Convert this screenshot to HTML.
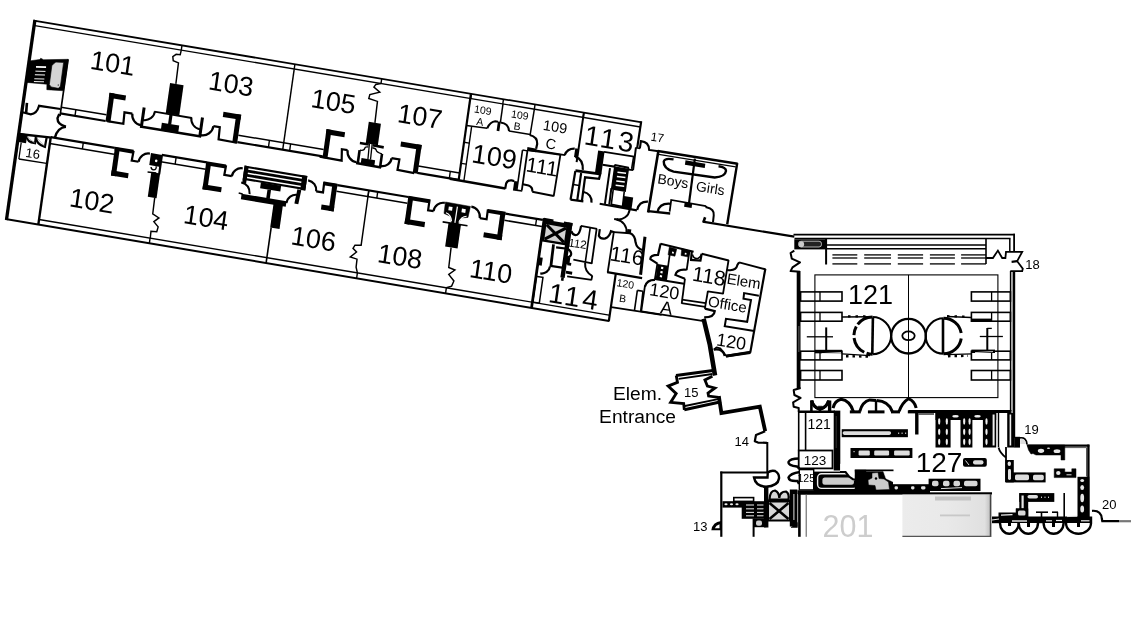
<!DOCTYPE html>
<html><head><meta charset="utf-8"><title>Floor plan</title>
<style>
html,body{margin:0;padding:0;background:#fff}
svg{display:block;filter:grayscale(1)}
text{font-family:"Liberation Sans",sans-serif}
</style></head><body>
<svg width="1131" height="618" viewBox="0 0 1131 618">
<rect width="1131" height="618" fill="#fff"/>
<g id="east">
<path d="M702.6 221.7 L794.3 236.7" fill="none" stroke="#000" stroke-width="2.2" stroke-linejoin="miter"/>
<line x1="793.5" y1="234.6" x2="1015" y2="234.6" stroke="#000" stroke-width="1.8" stroke-linecap="butt"/>
<line x1="794.5" y1="238.6" x2="1010.5" y2="238.6" stroke="#000" stroke-width="1.5" stroke-linecap="butt"/>
<line x1="1014.1" y1="233.8" x2="1014.1" y2="251.8" stroke="#000" stroke-width="1.8" stroke-linecap="butt"/>
<line x1="1009.8" y1="238.6" x2="1009.8" y2="251.8" stroke="#000" stroke-width="1.5" stroke-linecap="butt"/>
<line x1="826.1" y1="245" x2="986" y2="245" stroke="#000" stroke-width="1.4" stroke-linecap="butt"/>
<line x1="826.1" y1="248.7" x2="986" y2="248.7" stroke="#000" stroke-width="1.4" stroke-linecap="butt"/>
<line x1="826.1" y1="239" x2="826.1" y2="264.5" stroke="#000" stroke-width="2.0" stroke-linecap="butt"/>
<line x1="986" y1="238.6" x2="986" y2="264" stroke="#000" stroke-width="1.6" stroke-linecap="butt"/>
<rect x="794.3" y="239.3" width="32" height="10.1" fill="#000"/>
<rect x="798.5" y="241.2" width="23" height="5.8" rx="2.5" fill="#222" stroke="#ddd" stroke-width="0.8"/>
<ellipse cx="801.5" cy="244.3" rx="2.6" ry="3" fill="#ccc"/>
<line x1="832.4" y1="254.9" x2="857.3" y2="254.9" stroke="#000" stroke-width="1.3" stroke-linecap="butt"/>
<line x1="832.4" y1="258" x2="857.3" y2="258" stroke="#000" stroke-width="1.3" stroke-linecap="butt"/>
<line x1="832.4" y1="263.9" x2="857.3" y2="263.9" stroke="#000" stroke-width="1.3" stroke-linecap="butt"/>
<line x1="864.2" y1="254.9" x2="891" y2="254.9" stroke="#000" stroke-width="1.3" stroke-linecap="butt"/>
<line x1="864.2" y1="258" x2="891" y2="258" stroke="#000" stroke-width="1.3" stroke-linecap="butt"/>
<line x1="864.2" y1="263.9" x2="891" y2="263.9" stroke="#000" stroke-width="1.3" stroke-linecap="butt"/>
<line x1="897.8" y1="254.9" x2="923.1" y2="254.9" stroke="#000" stroke-width="1.3" stroke-linecap="butt"/>
<line x1="897.8" y1="258" x2="923.1" y2="258" stroke="#000" stroke-width="1.3" stroke-linecap="butt"/>
<line x1="897.8" y1="263.9" x2="923.1" y2="263.9" stroke="#000" stroke-width="1.3" stroke-linecap="butt"/>
<line x1="929.9" y1="254.9" x2="954.9" y2="254.9" stroke="#000" stroke-width="1.3" stroke-linecap="butt"/>
<line x1="929.9" y1="258" x2="954.9" y2="258" stroke="#000" stroke-width="1.3" stroke-linecap="butt"/>
<line x1="929.9" y1="263.9" x2="954.9" y2="263.9" stroke="#000" stroke-width="1.3" stroke-linecap="butt"/>
<line x1="961.1" y1="254.9" x2="986" y2="254.9" stroke="#000" stroke-width="1.3" stroke-linecap="butt"/>
<line x1="961.1" y1="258" x2="986" y2="258" stroke="#000" stroke-width="1.3" stroke-linecap="butt"/>
<line x1="961.1" y1="263.9" x2="986" y2="263.9" stroke="#000" stroke-width="1.3" stroke-linecap="butt"/>
<path d="M794.3 250.6 L790.6 253 L791.8 258.7 L800 262.4 L792.5 267.4 L790.6 271.1 L800 271.8" fill="none" stroke="#000" stroke-width="2.0" stroke-linejoin="round"/>
<line x1="798.6" y1="271" x2="798.6" y2="388.5" stroke="#000" stroke-width="3.8" stroke-linecap="butt"/>
<line x1="798.9" y1="326" x2="798.9" y2="352" stroke="#ccc" stroke-width="0.5" stroke-linecap="butt"/>
<path d="M986 258 L992.9 258 L997.9 250.6 L1002.2 258 L1005.4 258 L1006 251.8 L1022.2 251.8 L1017.2 261.2 L1022.8 268.6 L1022.2 271.1 L1010.3 271.1" fill="none" stroke="#000" stroke-width="1.8" stroke-linejoin="miter"/>
<path d="M1017.2 261.2 L1011.6 261.8" fill="none" stroke="#000" stroke-width="2.2" stroke-linejoin="miter"/>
<text x="1032.4" y="268.6" font-size="13" text-anchor="middle" fill="#000" >18</text>
<line x1="1010.6" y1="271" x2="1010.6" y2="411" stroke="#000" stroke-width="1.5" stroke-linecap="butt"/>
<line x1="1013.9" y1="271" x2="1013.9" y2="438" stroke="#000" stroke-width="2.6" stroke-linecap="butt"/>
<rect x="814.9" y="274.9" width="183" height="122.7" fill="none" stroke="#000" stroke-width="1.1" rx="0"/>
<line x1="908.5" y1="274.9" x2="908.5" y2="397.6" stroke="#000" stroke-width="1.0" stroke-linecap="butt"/>
<rect x="800.6" y="291.9" width="41.4" height="9.2" fill="none" stroke="#000" stroke-width="1.6" rx="0"/>
<line x1="820" y1="291.9" x2="820" y2="301.1" stroke="#000" stroke-width="1.3" stroke-linecap="butt"/>
<rect x="971.4" y="291.9" width="39" height="9.2" fill="none" stroke="#000" stroke-width="1.6" rx="0"/>
<line x1="991.6" y1="291.9" x2="991.6" y2="301.1" stroke="#000" stroke-width="1.3" stroke-linecap="butt"/>
<rect x="800.6" y="312.4" width="41.4" height="8.8" fill="none" stroke="#000" stroke-width="1.6" rx="0"/>
<line x1="820" y1="312.4" x2="820" y2="321.2" stroke="#000" stroke-width="1.3" stroke-linecap="butt"/>
<rect x="971.4" y="312.4" width="39" height="8.8" fill="none" stroke="#000" stroke-width="1.6" rx="0"/>
<line x1="991.6" y1="312.4" x2="991.6" y2="321.2" stroke="#000" stroke-width="1.3" stroke-linecap="butt"/>
<rect x="800.6" y="351.2" width="41.4" height="8.7" fill="none" stroke="#000" stroke-width="1.6" rx="0"/>
<line x1="820" y1="351.2" x2="820" y2="359.9" stroke="#000" stroke-width="1.3" stroke-linecap="butt"/>
<rect x="971.4" y="351.2" width="39" height="8.7" fill="none" stroke="#000" stroke-width="1.6" rx="0"/>
<line x1="991.6" y1="351.2" x2="991.6" y2="359.9" stroke="#000" stroke-width="1.3" stroke-linecap="butt"/>
<rect x="800.6" y="370.5" width="41.4" height="9.5" fill="none" stroke="#000" stroke-width="1.6" rx="0"/>
<line x1="820" y1="370.5" x2="820" y2="380" stroke="#000" stroke-width="1.3" stroke-linecap="butt"/>
<rect x="971.4" y="370.5" width="39" height="9.5" fill="none" stroke="#000" stroke-width="1.6" rx="0"/>
<line x1="991.6" y1="370.5" x2="991.6" y2="380" stroke="#000" stroke-width="1.3" stroke-linecap="butt"/>
<rect x="814.9" y="349.8" width="27.1" height="3.5" fill="#000"/>
<rect x="971.4" y="318.6" width="20.2" height="3.4" fill="#000"/>
<rect x="971.4" y="349.6" width="23.6" height="3.4" fill="#000"/>
<line x1="822" y1="353.6" x2="841" y2="352.6" stroke="#fff" stroke-width="0.8" stroke-linecap="butt"/>
<line x1="975" y1="352.6" x2="993" y2="351.6" stroke="#fff" stroke-width="0.8" stroke-linecap="butt"/>
<line x1="826.2" y1="327.4" x2="826.2" y2="350.8" stroke="#000" stroke-width="2.0" stroke-linecap="butt"/>
<line x1="806.8" y1="336.8" x2="833" y2="336.8" stroke="#000" stroke-width="1.3" stroke-linecap="butt"/>
<line x1="987.3" y1="328" x2="987.3" y2="350.5" stroke="#000" stroke-width="2.0" stroke-linecap="butt"/>
<line x1="979.8" y1="336.5" x2="1002.9" y2="336.5" stroke="#000" stroke-width="1.3" stroke-linecap="butt"/>
<line x1="987.3" y1="328.4" x2="991.8" y2="328.4" stroke="#000" stroke-width="1.3" stroke-linecap="butt"/>
<circle cx="908.5" cy="336.2" r="17.3" fill="none" stroke="#000" stroke-width="2.3"/>
<ellipse cx="908.5" cy="335.8" rx="6.2" ry="4.4" fill="none" stroke="#000" stroke-width="1.8"/>
<path d="M872.5 317 A18.6 18.6 0 0 1 872.5 354.2" fill="none" stroke="#000" stroke-width="2.0"/>
<path d="M872.5 317 A18.6 18.6 0 0 0 872.5 354.2" fill="none" stroke="#000" stroke-width="3" stroke-dasharray="17 2.5 9 3 18 2.5 9 0"/>
<line x1="872.9" y1="317.5" x2="872.3" y2="354" stroke="#000" stroke-width="2.6" stroke-linecap="butt"/>
<path d="M943.5 318.2 A17.8 17.8 0 0 0 943.5 353.8" fill="none" stroke="#000" stroke-width="2.0"/>
<path d="M943.5 318.2 A17.8 17.8 0 0 1 961.2 333 M961.2 338.5 A17.8 17.8 0 0 1 943.5 353.8" fill="none" stroke="#000" stroke-width="3"/>
<line x1="943" y1="318.5" x2="943" y2="353.5" stroke="#000" stroke-width="2.6" stroke-linecap="butt"/>
<line x1="842" y1="316.9" x2="870" y2="316.8" stroke="#000" stroke-width="1.5" stroke-linecap="butt"/>
<line x1="848" y1="316.3" x2="870" y2="316.3" stroke="#000" stroke-width="2.2" stroke-linecap="butt" stroke-dasharray="2.5 5"/>
<line x1="842" y1="353.8" x2="870" y2="355.6" stroke="#000" stroke-width="1.3" stroke-linecap="butt"/>
<line x1="846" y1="356.2" x2="870" y2="356.6" stroke="#000" stroke-width="2.4" stroke-linecap="butt" stroke-dasharray="2.5 4"/>
<line x1="947" y1="316.6" x2="971.5" y2="317.5" stroke="#000" stroke-width="1.5" stroke-linecap="butt"/>
<line x1="947" y1="316.2" x2="968" y2="316.6" stroke="#000" stroke-width="2.2" stroke-linecap="butt" stroke-dasharray="2.5 5"/>
<line x1="947" y1="354.6" x2="972" y2="353.8" stroke="#000" stroke-width="1.3" stroke-linecap="butt"/>
<line x1="948" y1="356.2" x2="968" y2="355.8" stroke="#000" stroke-width="2.4" stroke-linecap="butt" stroke-dasharray="2.5 4"/>
<text x="870.5" y="303.6" font-size="27" text-anchor="middle" fill="#000" >121</text>
<path d="M800.6 388 L793.7 390 L794.4 395 L800.6 398 L793.1 402.4 L793.7 406.8 L798.7 408 L798.7 412" fill="none" stroke="#000" stroke-width="2.0" stroke-linejoin="round"/>
<line x1="798" y1="411.8" x2="835" y2="411.8" stroke="#000" stroke-width="2.4" stroke-linecap="butt"/>
<line x1="811.4" y1="400.5" x2="811.4" y2="412" stroke="#000" stroke-width="2.6" stroke-linecap="butt"/>
<line x1="829.6" y1="400.5" x2="829.6" y2="412" stroke="#000" stroke-width="3.4" stroke-linecap="butt"/>
<path d="M 811.81 400.54 Q 813.05 407.39 819.91 409.26 Q 826.77 407.39 828.64 400.54" fill="none" stroke="#000" stroke-width="3.0"/>
<path d="M 811.81 400.54 Q 813.05 407.39 819.91 409.26 Q 826.77 407.39 828.64 400.54" fill="none" stroke="#000" stroke-width="3.0"/>
<path d="M818.04 406.15 L819.91 411.76 L822.41 406.15 Z" fill="#000" stroke="#000" stroke-width="0.5" stroke-linejoin="miter"/>
<path d="M 833 408.02 Q 834.88 400.54 841.11 399.29 Q 849.84 400.54 853.33 411.38" fill="none" stroke="#000" stroke-width="3.0"/>
<line x1="849.84" y1="411.88" x2="860.81" y2="411.88" stroke="#000" stroke-width="3.0" stroke-linecap="butt"/>
<path d="M 859.81 411.38 Q 862.31 401.78 869.79 399.91 L 876.02 400.54" fill="none" stroke="#000" stroke-width="3.0"/>
<line x1="876.02" y1="400.29" x2="876.02" y2="411.88" stroke="#000" stroke-width="2.4" stroke-linecap="butt"/>
<line x1="867.92" y1="411.88" x2="884.5" y2="411.88" stroke="#000" stroke-width="3.0" stroke-linecap="butt"/>
<path d="M 876.65 400.54 Q 888.49 401.16 892.23 411.38" fill="none" stroke="#000" stroke-width="3.0"/>
<line x1="890.99" y1="411.88" x2="899.96" y2="411.88" stroke="#000" stroke-width="3.0" stroke-linecap="butt"/>
<path d="M 899.09 411.38 Q 902.21 402.41 908.44 398.67 Q 914.68 401.16 916.17 408.02" fill="none" stroke="#000" stroke-width="3.0"/>
<line x1="907.82" y1="411.88" x2="917.17" y2="411.88" stroke="#000" stroke-width="3.0" stroke-linecap="butt"/>
<line x1="798.7" y1="411.8" x2="798.7" y2="450.5" stroke="#000" stroke-width="1.6" stroke-linecap="butt"/>
<line x1="805.6" y1="411.8" x2="805.6" y2="450.5" stroke="#000" stroke-width="1.6" stroke-linecap="butt"/>
<line x1="837" y1="410.6" x2="837" y2="470.5" stroke="#000" stroke-width="6.6" stroke-linecap="butt"/>
<line x1="836.2" y1="416" x2="836.2" y2="448" stroke="#666" stroke-width="0.5" stroke-linecap="butt"/>
<rect x="798.7" y="450.5" width="33.8" height="17.9" fill="none" stroke="#000" stroke-width="1.8" rx="0"/>
<text x="819.2" y="428.5" font-size="14" text-anchor="middle" fill="#000" >121</text>
<text x="815" y="465.3" font-size="13.5" text-anchor="middle" fill="#000" >123</text>
<path d="M799 458.5 Q790 458.5 788.5 462 Q788 465.5 797 466.5 L799.5 468.5" fill="none" stroke="#000" stroke-width="2.4"/>
<path d="M800 472 Q790 473.5 788.5 477.5 Q789 481.5 797.5 481 L799 484" fill="none" stroke="#000" stroke-width="2.4"/>
<rect x="799.3" y="469.6" width="14.4" height="20.3" fill="none" stroke="#000" stroke-width="1.4" rx="0"/>
<text x="806.3" y="481.8" font-size="10.5" text-anchor="middle" fill="#000" >125</text>
<rect x="841.7" y="429.2" width="66.2" height="8" fill="#000"/>
<rect x="842.6" y="431.3" width="48.5" height="3.6" rx="1.8" fill="#ddd"/>
<rect x="898" y="432.6" width="1.2" height="1.2" fill="#ddd"/>
<rect x="901.5" y="432.6" width="1.2" height="1.2" fill="#ddd"/>
<rect x="905" y="432.6" width="1.2" height="1.2" fill="#ddd"/>
<rect x="850.5" y="448" width="61.9" height="10" fill="#000"/>
<rect x="858.6" y="450.6" width="11.199999999999932" height="4.9" rx="1.2" fill="#ddd"/>
<rect x="874.2" y="450.6" width="14.899999999999977" height="4.9" rx="1.2" fill="#ddd"/>
<rect x="894.1" y="450.6" width="15.600000000000023" height="4.9" rx="1.2" fill="#ddd"/>
<rect x="853.5" y="451" width="1.1" height="1.2" fill="#ddd"/>
<line x1="908.5" y1="411.5" x2="1011.5" y2="411.5" stroke="#000" stroke-width="3.0" stroke-linecap="butt"/>
<line x1="916.8" y1="411" x2="916.8" y2="434.5" stroke="#000" stroke-width="3.4" stroke-linecap="butt"/>
<line x1="918.5" y1="414" x2="934" y2="414" stroke="#000" stroke-width="1.2" stroke-linecap="butt"/>
<rect x="935.5" y="410.2" width="60.7" height="9.8" fill="#000"/>
<rect x="935.5" y="413" width="15.1" height="34.5" fill="#000"/>
<rect x="960.5" y="413" width="11.9" height="34.5" fill="#000"/>
<rect x="982.9" y="413" width="13.3" height="34.5" fill="#000"/>
<ellipse cx="939.2" cy="421.5" rx="1.1" ry="3.2" fill="#eee"/>
<ellipse cx="939.2" cy="432" rx="1.1" ry="3.2" fill="#eee"/>
<ellipse cx="939.2" cy="442" rx="1.1" ry="3.2" fill="#eee"/>
<ellipse cx="946.8" cy="421.5" rx="1.1" ry="3.2" fill="#eee"/>
<ellipse cx="946.8" cy="432" rx="1.1" ry="3.2" fill="#eee"/>
<ellipse cx="946.8" cy="442" rx="1.1" ry="3.2" fill="#eee"/>
<ellipse cx="964.2" cy="421.5" rx="1.1" ry="3.2" fill="#eee"/>
<ellipse cx="964.2" cy="432" rx="1.1" ry="3.2" fill="#eee"/>
<ellipse cx="964.2" cy="442" rx="1.1" ry="3.2" fill="#eee"/>
<ellipse cx="969.6" cy="421.5" rx="1.1" ry="3.2" fill="#eee"/>
<ellipse cx="969.6" cy="432" rx="1.1" ry="3.2" fill="#eee"/>
<ellipse cx="969.6" cy="442" rx="1.1" ry="3.2" fill="#eee"/>
<ellipse cx="986.5" cy="421.5" rx="1.1" ry="3.2" fill="#eee"/>
<ellipse cx="986.5" cy="432" rx="1.1" ry="3.2" fill="#eee"/>
<ellipse cx="986.5" cy="442" rx="1.1" ry="3.2" fill="#eee"/>
<ellipse cx="955.5" cy="416.2" rx="3.2" ry="1.3" fill="#eee"/>
<ellipse cx="977.5" cy="416.2" rx="3.2" ry="1.3" fill="#eee"/>
<rect x="992.6" y="414.5" width="2" height="31" fill="#eee"/>
<line x1="998.5" y1="413" x2="998.5" y2="447" stroke="#000" stroke-width="1.4" stroke-linecap="butt"/>
<rect x="1007.2" y="413" width="7.6" height="34.5" fill="#000"/>
<rect x="1009.6" y="414.5" width="1.6" height="31" fill="#eee"/>
<text x="939" y="472.3" font-size="28" text-anchor="middle" fill="#000" >127</text>
<rect x="963" y="458" width="23.8" height="8.8" rx="2" fill="#000"/>
<rect x="973" y="460.3" width="10.5" height="4.2" rx="2" fill="#ddd"/>
<path d="M965.5 460.5 L969 465" fill="none" stroke="#ddd" stroke-width="1.0"/>
<path d="M998.5 447.4 Q1000 453 1006 457.5" fill="none" stroke="#000" stroke-width="1.8"/>
<line x1="1006" y1="447" x2="1006" y2="482" stroke="#000" stroke-width="1.8" stroke-linecap="butt"/>
<rect x="813.7" y="471.6" width="42.3" height="22" fill="#000"/>
<rect x="817.6" y="473.8" width="40" height="14.6" rx="4" fill="#000" stroke="#eee" stroke-width="1.4"/>
<rect x="822.4" y="477.6" width="31.5" height="7.2" rx="2.5" fill="#ccc"/>
<path d="M840.5 464 L854.9 464 L854.9 480.2 L853 479.8 L849.5 476 L845.8 471.6 L840.5 471.2 Z" fill="#fff" stroke="#fff" stroke-width="0.5" stroke-linejoin="miter"/>
<path d="M840 472 L845.5 472 Q848.5 477 853 479.3 L856 479.6" fill="none" stroke="#000" stroke-width="2.2"/>
<rect x="854.8" y="469.8" width="11.4" height="23.8" fill="#000"/>
<line x1="854.8" y1="470.6" x2="893.5" y2="470.6" stroke="#000" stroke-width="2.0" stroke-linecap="butt"/>
<rect x="866" y="471.5" width="27" height="22.1" fill="#000"/>
<path d="M868 480 L872 478 L872 473 L878 472.5 L879 478.5 L884 479 L888.5 482 L889.5 489.5 L876 490 L875 485.5 L868.5 485 Z" fill="#ccc" stroke="#000" stroke-width="0.5" stroke-linejoin="round"/>
<circle cx="876" cy="478.5" r="1.2" fill="#000"/>
<path d="M883.5 471.5 L886 478.5 L893.5 482 L893.5 471.5 Z" fill="#fff" stroke="#fff" stroke-width="0.5" stroke-linejoin="miter"/>
<rect x="893" y="484.2" width="36" height="9.8" fill="#000"/>
<rect x="894.5" y="486.3" width="3.5" height="3.2" rx="1.4" fill="#e4e4e4"/>
<rect x="911" y="486.3" width="3.5" height="3.2" rx="1.4" fill="#e4e4e4"/>
<rect x="921" y="486.3" width="4.5" height="3.2" rx="1.4" fill="#e4e4e4"/>
<rect x="928.6" y="478.7" width="51.9" height="12.3" fill="#000"/>
<rect x="932" y="480.8" width="6.5" height="5.4" rx="2" fill="#d6d6d6"/>
<rect x="943" y="480.8" width="6.5" height="5.4" rx="2" fill="#d6d6d6"/>
<rect x="953.5" y="480.8" width="6.5" height="5.4" rx="2" fill="#d6d6d6"/>
<rect x="964" y="480.8" width="13.5" height="5.4" rx="2" fill="#d6d6d6"/>
<line x1="941" y1="488.6" x2="962" y2="487.6" stroke="#ddd" stroke-width="1.0" stroke-linecap="butt"/>
<line x1="798" y1="493.7" x2="992" y2="493.4" stroke="#000" stroke-width="2.2" stroke-linecap="butt"/>
<line x1="797.5" y1="492.2" x2="930" y2="492.2" stroke="#000" stroke-width="3.8" stroke-linecap="butt"/>
<line x1="799.4" y1="493" x2="799.4" y2="536.8" stroke="#000" stroke-width="2.6" stroke-linecap="butt"/>
<line x1="806.2" y1="494" x2="806.2" y2="536.8" stroke="#555" stroke-width="1.0" stroke-linecap="butt"/>
<defs><linearGradient id="g201" x1="0" x2="1" y1="0" y2="0"><stop offset="0" stop-color="#ececec"/><stop offset="0.5" stop-color="#e9e9e9"/><stop offset="0.93" stop-color="#e0e0e0"/><stop offset="1" stop-color="#bdbdbd"/></linearGradient></defs>
<rect x="902.4" y="494.6" width="88.6" height="42" fill="url(#g201)"/>
<rect x="935" y="496.5" width="36" height="4" fill="#c4c4c4"/>
<rect x="940" y="514.5" width="30" height="1.8" fill="#c8c8c8"/>
<line x1="990.6" y1="494" x2="990.6" y2="537" stroke="#444" stroke-width="1.6" stroke-linecap="butt"/>
<line x1="902.4" y1="536.4" x2="991" y2="536.4" stroke="#555" stroke-width="1.4" stroke-linecap="butt"/>
<text x="848" y="536.7" font-size="30.5" text-anchor="middle" fill="#cdcdcd" >201</text>
<text x="1031.5" y="434" font-size="13" text-anchor="middle" fill="#000" >19</text>
<rect x="1014.5" y="436.8" width="5.5" height="10.8" fill="#000"/>
<path d="M1020 438 Q1026.5 437 1027 444.5" fill="none" stroke="#000" stroke-width="1.8"/>
<path d="M1020.3 438.5 Q1025.5 438.5 1026 444 L1020.3 444 Z" fill="#ddd"/>
<line x1="1027.4" y1="445.6" x2="1089.3" y2="445.6" stroke="#000" stroke-width="2.2" stroke-linecap="butt"/>
<line x1="1088.4" y1="444.6" x2="1088.4" y2="523" stroke="#000" stroke-width="2.4" stroke-linecap="butt"/>
<line x1="1055" y1="447.6" x2="1086.6" y2="447.6" stroke="#444" stroke-width="0.9" stroke-linecap="butt"/>
<line x1="1086.5" y1="447.6" x2="1086.5" y2="476.5" stroke="#444" stroke-width="0.9" stroke-linecap="butt"/>
<path d="M1027 445 L1064.8 445 L1064.8 460 L1061 460 L1061 455 L1036 455 L1033 453.5 L1031 454 L1028.5 450 Z" fill="#000" stroke="#000" stroke-width="0.5" stroke-linejoin="miter"/>
<ellipse cx="1041" cy="450.8" rx="3.2" ry="2.1" fill="#e6e6e6"/>
<ellipse cx="1057" cy="451.2" rx="3.4" ry="1.9" fill="#e6e6e6"/>
<ellipse cx="1048.5" cy="448.3" rx="1.6" ry="0.8" fill="#ddd"/>
<rect x="1005.6" y="460" width="8.2" height="22.4" fill="#000"/>
<rect x="1005.6" y="472.4" width="40" height="10" fill="#000"/>
<ellipse cx="1009.3" cy="463.8" rx="1.7" ry="2.2" fill="#e6e6e6"/>
<rect x="1008" y="469" width="3" height="11" rx="1.4" fill="#e0e0e0"/>
<rect x="1015" y="474.6" width="14" height="5.6" rx="1.6" fill="#ddd"/>
<rect x="1033" y="474.8" width="10.8" height="5.4" rx="1.6" fill="#ddd"/>
<path d="M1054.2 468.8 L1064.8 468.8 L1064.8 472 L1071.8 472 L1071.8 468.8 L1076 468.8 L1076 477.6 L1054.2 477.6 Z" fill="#000" stroke="#000" stroke-width="0.5" stroke-linejoin="miter"/>
<ellipse cx="1058.3" cy="473" rx="2.2" ry="2" fill="#e6e6e6"/>
<line x1="1066.5" y1="474.8" x2="1071.5" y2="474.8" stroke="#ddd" stroke-width="1.0" stroke-linecap="butt"/>
<rect x="1077.5" y="476.8" width="11.8" height="46.2" fill="#000"/>
<ellipse cx="1082.2" cy="480.5" rx="1.9" ry="1.6" fill="#e6e6e6"/>
<ellipse cx="1082.2" cy="487.5" rx="1.9" ry="2.6" fill="#e6e6e6"/>
<ellipse cx="1082.2" cy="498" rx="1.9" ry="4.2" fill="#e6e6e6"/>
<ellipse cx="1082.2" cy="509" rx="1.9" ry="3.6" fill="#e6e6e6"/>
<rect x="1019.3" y="493.1" width="35" height="8.8" fill="#000"/>
<rect x="1019.3" y="493.1" width="8.9" height="23.9" fill="#000"/>
<rect x="1027.5" y="495" width="10.5" height="3.6" rx="1.8" fill="#ddd"/>
<rect x="1041" y="496.6" width="1" height="1.4" fill="#ccc"/>
<rect x="1044.5" y="496.6" width="1" height="1.4" fill="#ccc"/>
<rect x="1048" y="496.6" width="1" height="1.4" fill="#ccc"/>
<rect x="1021.5" y="495.5" width="2.2" height="13" fill="#e6e6e6"/>
<path d="M1016 508.5 L1028 508.5 L1028 517 L1016 517 Z" fill="#000" stroke="#000" stroke-width="0.5" stroke-linejoin="miter"/>
<rect x="1018" y="510.5" width="7.5" height="5" rx="1.5" fill="#d8d8d8"/>
<line x1="1064.2" y1="493" x2="1064.2" y2="517" stroke="#000" stroke-width="1.6" stroke-linecap="butt"/>
<line x1="1036" y1="512.2" x2="1048" y2="512.2" stroke="#000" stroke-width="1.6" stroke-linecap="butt"/>
<line x1="1041.5" y1="512" x2="1041.5" y2="518" stroke="#000" stroke-width="1.6" stroke-linecap="butt"/>
<line x1="1052" y1="512.2" x2="1058" y2="512.2" stroke="#000" stroke-width="1.6" stroke-linecap="butt"/>
<line x1="1057.5" y1="512" x2="1057.5" y2="518" stroke="#000" stroke-width="1.4" stroke-linecap="butt"/>
<rect x="992" y="516.5" width="100.2" height="6.7" fill="#000"/>
<rect x="998.5" y="512.5" width="17.5" height="4.5" fill="#000"/>
<line x1="1001" y1="515.2" x2="1012.5" y2="514.7" stroke="#eee" stroke-width="1.2" stroke-linecap="butt"/>
<line x1="1012" y1="521" x2="1027" y2="521" stroke="#eee" stroke-width="1.4" stroke-linecap="butt"/>
<line x1="1046" y1="520.8" x2="1053" y2="520.8" stroke="#eee" stroke-width="1.2" stroke-linecap="butt"/>
<line x1="1056" y1="520.5" x2="1062" y2="520.5" stroke="#eee" stroke-width="1.2" stroke-linecap="butt"/>
<line x1="1067" y1="516.6" x2="1077" y2="516.2" stroke="#ddd" stroke-width="1.0" stroke-linecap="butt"/>
<line x1="1081" y1="520.8" x2="1089.5" y2="520.8" stroke="#eee" stroke-width="1.2" stroke-linecap="butt"/>
<line x1="992" y1="520" x2="999" y2="519" stroke="#eee" stroke-width="1.2" stroke-linecap="butt"/>
<path d="M1000 523 A9.350000000000023 10.8 0 0 0 1018.7 523" fill="#fff" stroke="#000" stroke-width="2.4"/>
<path d="M1018.7 523 A9.649999999999977 10.8 0 0 0 1038 523" fill="#fff" stroke="#000" stroke-width="2.4"/>
<path d="M1043.6 523 A10.0 10.8 0 0 0 1063.6 523" fill="#fff" stroke="#000" stroke-width="2.4"/>
<path d="M1066 523 A12.5 10.8 0 0 0 1091 523" fill="#fff" stroke="#000" stroke-width="2.4"/>
<rect x="1008" y="519" width="3" height="7" fill="#000"/>
<rect x="1027" y="519" width="3" height="8" fill="#000"/>
<rect x="1052" y="519" width="3" height="8" fill="#000"/>
<rect x="1077" y="519" width="3" height="8" fill="#000"/>
<path d="M1092 510.8 Q1101 510 1101.8 518.5 L1102.3 521.2 L1119 521.2" fill="none" stroke="#000" stroke-width="2.2"/>
<line x1="1119" y1="521.2" x2="1131" y2="521.2" stroke="#777" stroke-width="2.2" stroke-linecap="butt"/>
<text x="1109.2" y="508.6" font-size="13" text-anchor="middle" fill="#000" >20</text>
<path d="M703.6 318.7 L709.9 345 L715 375.5" fill="none" stroke="#000" stroke-width="4.6" stroke-linejoin="miter"/>
<path d="M713.8 349.7 L716.5 347.3 L720.2 348.3 L723.2 351.8 L726 356.1" fill="none" stroke="#000" stroke-width="1.8" stroke-linejoin="round"/>
<path d="M726 356.1 L750.3 352.6" fill="none" stroke="#000" stroke-width="2.8" stroke-linejoin="miter"/>
<path d="M676 375.6 L713 370.4" fill="none" stroke="#000" stroke-width="3.0" stroke-linejoin="miter"/>
<path d="M678.7 378.8 L712.4 374" fill="none" stroke="#000" stroke-width="1.8" stroke-linejoin="miter"/>
<path d="M676.2 375.5 L677.5 382.4 L668.1 386.1 L676.2 393.6 L670.6 402.4 L683.7 403.6 L684.3 409.8" fill="none" stroke="#000" stroke-width="2.8" stroke-linejoin="miter"/>
<path d="M684.3 409.8 L721.1 401.7" fill="none" stroke="#000" stroke-width="3.0" stroke-linejoin="miter"/>
<path d="M684.9 406 L718 399.2" fill="none" stroke="#000" stroke-width="1.8" stroke-linejoin="miter"/>
<path d="M712.4 376.2 L704.9 379.9 L707.4 386.1 L714.9 388 L708 393 L708.6 396.1 L718.6 397.4" fill="none" stroke="#000" stroke-width="2.8" stroke-linejoin="miter"/>
<path d="M718.8 396.1 L721.4 413 L759.8 406.6 L765.2 431.2" fill="none" stroke="#000" stroke-width="3.8" stroke-linejoin="miter"/>
<text x="691.2" y="396.5" font-size="13" text-anchor="middle" fill="#000" >15</text>
<text x="637.5" y="399.8" font-size="19.2" text-anchor="middle" fill="#000" >Elem.</text>
<text x="637.5" y="422.8" font-size="19.2" text-anchor="middle" fill="#000" >Entrance</text>
<path d="M765.2 431.2 L756 435 L754.8 441.2 L758 442.6 L767 442.8" fill="none" stroke="#000" stroke-width="2.2" stroke-linejoin="round"/>
<line x1="767.3" y1="442" x2="767.3" y2="472.5" stroke="#000" stroke-width="2.0" stroke-linecap="butt"/>
<text x="741.8" y="446.2" font-size="13" text-anchor="middle" fill="#000" >14</text>
<line x1="720.3" y1="472.5" x2="768.4" y2="472.5" stroke="#000" stroke-width="2.0" stroke-linecap="butt"/>
<line x1="721.3" y1="471.5" x2="721.3" y2="536.8" stroke="#000" stroke-width="2.2" stroke-linecap="butt"/>
<path d="M754 477.5 L767.5 477.5 L767.8 472.5 Q771 470 775 471 Q779.5 473.5 779 478.5 Q778 486 766 486.8 Q755.5 486 754 477.5 Z" fill="#fff" stroke="#000" stroke-width="2.4"/>
<line x1="766.2" y1="486.5" x2="766.2" y2="527.5" stroke="#000" stroke-width="4.4" stroke-linecap="butt"/>
<rect x="766.5" y="499.5" width="24.5" height="22" fill="#000"/>
<rect x="769" y="502.5" width="20" height="17" fill="#d6d6d6"/>
<line x1="769.5" y1="503" x2="788.5" y2="519" stroke="#000" stroke-width="2.6" stroke-linecap="butt"/>
<line x1="788.5" y1="503" x2="769.5" y2="519" stroke="#000" stroke-width="2.6" stroke-linecap="butt"/>
<path d="M769.5 499.5 Q770 490.5 775 490.5 Q779 492 779.3 498 Q780 491.5 786 491.5 Q789.5 493.5 788.5 499.5 Z" fill="#d6d6d6" stroke="#000" stroke-width="2.2"/>
<rect x="789.8" y="489.5" width="7.6" height="37" fill="#000"/>
<rect x="793.4" y="494" width="1.0" height="26" fill="#e0e0e0"/>
<path d="M791 527.5 L797.4 522.5 L797.4 527.5 Z" fill="#000" stroke="#000" stroke-width="0.5" stroke-linejoin="miter"/>
<rect x="741.7" y="501.2" width="23.3" height="17.6" fill="#000"/>
<line x1="746" y1="505" x2="754" y2="505" stroke="#ddd" stroke-width="1.1" stroke-linecap="butt"/>
<line x1="757" y1="505" x2="763.5" y2="505" stroke="#ddd" stroke-width="1.1" stroke-linecap="butt"/>
<line x1="746" y1="508.8" x2="754" y2="508.8" stroke="#ddd" stroke-width="1.1" stroke-linecap="butt"/>
<line x1="757" y1="508.8" x2="763.5" y2="508.8" stroke="#ddd" stroke-width="1.1" stroke-linecap="butt"/>
<line x1="746" y1="512.4" x2="754" y2="512.4" stroke="#ddd" stroke-width="1.1" stroke-linecap="butt"/>
<line x1="757" y1="512.4" x2="763.5" y2="512.4" stroke="#ddd" stroke-width="1.1" stroke-linecap="butt"/>
<line x1="746" y1="515.8" x2="754" y2="515.8" stroke="#ddd" stroke-width="1.1" stroke-linecap="butt"/>
<line x1="757" y1="515.8" x2="763.5" y2="515.8" stroke="#ddd" stroke-width="1.1" stroke-linecap="butt"/>
<rect x="733.8" y="497.6" width="19.8" height="3.8" fill="none" stroke="#000" stroke-width="1.6" rx="0"/>
<rect x="722.5" y="501.2" width="19.5" height="6.4" fill="#000"/>
<ellipse cx="726" cy="504.2" rx="1.6" ry="1" fill="#eee"/>
<ellipse cx="731.5" cy="504.2" rx="1.6" ry="1" fill="#eee"/>
<ellipse cx="737" cy="504.2" rx="1.6" ry="1" fill="#eee"/>
<line x1="753.6" y1="518.6" x2="753.6" y2="536.8" stroke="#000" stroke-width="2.0" stroke-linecap="butt"/>
<rect x="753.6" y="518.6" width="12.8" height="8.6" fill="#000"/>
<rect x="756" y="520.4" width="6" height="5.4" rx="2" fill="#d0d0d0"/>
<path d="M721.2 521 Q712.5 522 711.3 530.3 L721.2 530.3 Z" fill="#000"/>
<path d="M719.5 524.2 Q716 525 714.8 528.3 L719.5 528.3 Z" fill="#fff"/>
<text x="700.3" y="531.2" font-size="13" text-anchor="middle" fill="#000" >13</text>
</g>
<g id="wing" transform="matrix(0.98629 0.16505 -0.14090 0.99002 35.0 20.8)">
<line x1="-1.2" y1="0" x2="615.3" y2="0" stroke="#000" stroke-width="1.8" stroke-linecap="butt"/>
<line x1="0.5" y1="4.8" x2="614.5" y2="4.8" stroke="#000" stroke-width="1.4" stroke-linecap="butt"/>
<line x1="-0.2" y1="-0.9" x2="-0.2" y2="201.2" stroke="#000" stroke-width="3.3" stroke-linecap="butt"/>
<path d="M-1.3 200.3 L610.8 201.4" fill="none" stroke="#000" stroke-width="2.0" stroke-linejoin="miter"/>
<line x1="32" y1="195.3" x2="610" y2="195.6" stroke="#000" stroke-width="1.4" stroke-linecap="butt"/>
<line x1="149" y1="0" x2="149" y2="4.8" stroke="#000" stroke-width="1.4" stroke-linecap="butt"/>
<line x1="263.5" y1="0" x2="263.5" y2="4.8" stroke="#000" stroke-width="1.4" stroke-linecap="butt"/>
<line x1="351.5" y1="0" x2="351.5" y2="4.8" stroke="#000" stroke-width="1.4" stroke-linecap="butt"/>
<line x1="442.5" y1="0" x2="442.5" y2="4.8" stroke="#000" stroke-width="1.4" stroke-linecap="butt"/>
<line x1="475" y1="0" x2="475" y2="4.8" stroke="#000" stroke-width="1.4" stroke-linecap="butt"/>
<line x1="507" y1="0" x2="507" y2="4.8" stroke="#000" stroke-width="1.4" stroke-linecap="butt"/>
<line x1="556.5" y1="0" x2="556.5" y2="4.8" stroke="#000" stroke-width="1.4" stroke-linecap="butt"/>
<path d="M149 4.8 L148.6 9.5 L144.5 9.8 L141.5 12.5 L142.5 16.5 L148 17.8 L148.4 39" fill="none" stroke="#000" stroke-width="1.45" stroke-linejoin="miter"/>
<line x1="263.5" y1="4.8" x2="263.5" y2="86.5" stroke="#000" stroke-width="1.45" stroke-linecap="butt"/>
<path d="M351.3 4.8 L346.5 6.5 L345 9.5 L351.5 13.5 L342 17.5 L341.5 21.5 L350.5 23 L351 44.5" fill="none" stroke="#000" stroke-width="1.45" stroke-linejoin="miter"/>
<line x1="442" y1="0" x2="442" y2="87.5" stroke="#000" stroke-width="2.2" stroke-linecap="butt"/>
<line x1="447.3" y1="32" x2="447.3" y2="87" stroke="#000" stroke-width="1.4" stroke-linecap="butt"/>
<line x1="442" y1="49" x2="447.3" y2="49" stroke="#000" stroke-width="1.3" stroke-linecap="butt"/>
<line x1="442" y1="70.3" x2="447.3" y2="70.3" stroke="#000" stroke-width="1.3" stroke-linecap="butt"/>
<line x1="32" y1="113" x2="32" y2="200.5" stroke="#000" stroke-width="2.4" stroke-linecap="butt"/>
<path d="M143.5 155 L143.8 171 L150.5 174 L146 178.5 L151 183 L150.3 188 L144.5 188.5 L144.8 195.5" fill="none" stroke="#000" stroke-width="1.45" stroke-linejoin="miter"/>
<line x1="144.6" y1="195.5" x2="144.6" y2="200.8" stroke="#000" stroke-width="1.4" stroke-linecap="butt"/>
<line x1="263" y1="165" x2="263" y2="200.8" stroke="#000" stroke-width="1.6" stroke-linecap="butt"/>
<path d="M354.5 112 L354.6 167.5 L348.5 168.5 L347 172 L351 175 L345.5 181 L352.5 182 L352.7 190 L354.8 195.5" fill="none" stroke="#000" stroke-width="1.45" stroke-linejoin="miter"/>
<line x1="354.8" y1="195.5" x2="354.8" y2="201" stroke="#000" stroke-width="1.4" stroke-linecap="butt"/>
<path d="M444 155 L444.5 175 L451 176.5 L445.5 182 L451.5 187.5 L450 193 L445 195.5" fill="none" stroke="#000" stroke-width="1.45" stroke-linejoin="miter"/>
<line x1="445" y1="195.5" x2="445" y2="201.2" stroke="#000" stroke-width="1.4" stroke-linecap="butt"/>
<line x1="38" y1="81" x2="84" y2="81" stroke="#000" stroke-width="1.5" stroke-linecap="butt"/>
<line x1="38" y1="87.2" x2="84" y2="87.2" stroke="#000" stroke-width="2.2" stroke-linecap="butt"/>
<line x1="53" y1="81" x2="53" y2="87.2" stroke="#000" stroke-width="1.4" stroke-linecap="butt"/>
<line x1="217.5" y1="79.3" x2="304" y2="79.3" stroke="#000" stroke-width="1.5" stroke-linecap="butt"/>
<line x1="217.5" y1="86.3" x2="304" y2="86.3" stroke="#000" stroke-width="2.2" stroke-linecap="butt"/>
<line x1="249" y1="79.3" x2="249" y2="86.3" stroke="#000" stroke-width="1.4" stroke-linecap="butt"/>
<line x1="270.5" y1="79.3" x2="270.5" y2="86.3" stroke="#000" stroke-width="1.4" stroke-linecap="butt"/>
<line x1="400" y1="80" x2="442" y2="80" stroke="#000" stroke-width="1.5" stroke-linecap="butt"/>
<line x1="400" y1="87" x2="442" y2="87" stroke="#000" stroke-width="2.2" stroke-linecap="butt"/>
<line x1="432.5" y1="80" x2="432.5" y2="87" stroke="#000" stroke-width="1.4" stroke-linecap="butt"/>
<line x1="433" y1="87.3" x2="489.5" y2="87.8" stroke="#000" stroke-width="2.4" stroke-linecap="butt"/>
<line x1="32" y1="118.6" x2="97" y2="118.6" stroke="#000" stroke-width="1.5" stroke-linecap="butt"/>
<line x1="32" y1="112.2" x2="97" y2="112.2" stroke="#000" stroke-width="2.2" stroke-linecap="butt"/>
<line x1="65" y1="118.6" x2="65" y2="112.2" stroke="#000" stroke-width="1.4" stroke-linecap="butt"/>
<line x1="144.5" y1="118.3" x2="190" y2="118.3" stroke="#000" stroke-width="1.5" stroke-linecap="butt"/>
<line x1="144.5" y1="111.4" x2="190" y2="111.4" stroke="#000" stroke-width="2.2" stroke-linecap="butt"/>
<line x1="159" y1="118.3" x2="159" y2="111.4" stroke="#000" stroke-width="1.4" stroke-linecap="butt"/>
<line x1="322.6" y1="118.5" x2="394.5" y2="118.5" stroke="#000" stroke-width="1.5" stroke-linecap="butt"/>
<line x1="322.6" y1="112.2" x2="394.5" y2="112.2" stroke="#000" stroke-width="2.2" stroke-linecap="butt"/>
<line x1="354.5" y1="118.5" x2="354.5" y2="112.2" stroke="#000" stroke-width="1.4" stroke-linecap="butt"/>
<line x1="363.5" y1="118.5" x2="363.5" y2="112.2" stroke="#000" stroke-width="1.4" stroke-linecap="butt"/>
<line x1="493" y1="119.3" x2="531" y2="119.3" stroke="#000" stroke-width="1.5" stroke-linecap="butt"/>
<line x1="493" y1="112.6" x2="531" y2="112.6" stroke="#000" stroke-width="2.2" stroke-linecap="butt"/>
<line x1="524.6" y1="119.3" x2="524.6" y2="112.6" stroke="#000" stroke-width="1.4" stroke-linecap="butt"/>
<rect x="84" y="58.7" width="5" height="29.1" fill="#000"/>
<rect x="84" y="58.7" width="16.7" height="5.1" fill="#000"/>
<rect x="212.5" y="58.7" width="5" height="29.1" fill="#000"/>
<rect x="199.5" y="58.7" width="18" height="5.1" fill="#000"/>
<rect x="304" y="58.7" width="5" height="29.1" fill="#000"/>
<rect x="304" y="58.7" width="18.8" height="5.1" fill="#000"/>
<rect x="395.5" y="58.7" width="5" height="29.1" fill="#000"/>
<rect x="379.6" y="58.7" width="20.9" height="5.1" fill="#000"/>
<rect x="97" y="111.5" width="5" height="28.5" fill="#000"/>
<rect x="97" y="134.9" width="17.2" height="5.1" fill="#000"/>
<rect x="97" y="111" width="19" height="3.9" fill="#000"/>
<rect x="189.5" y="110.8" width="5" height="27.7" fill="#000"/>
<rect x="189.5" y="133.4" width="18.9" height="5.1" fill="#000"/>
<rect x="189.5" y="110.3" width="20.1" height="3.9" fill="#000"/>
<rect x="317.6" y="111.2" width="5" height="27.7" fill="#000"/>
<rect x="309.7" y="133.8" width="12.9" height="5.1" fill="#000"/>
<rect x="309" y="110.7" width="13.6" height="3.9" fill="#000"/>
<rect x="394.5" y="111.5" width="5" height="27.8" fill="#000"/>
<rect x="394.5" y="134.2" width="20.2" height="5.1" fill="#000"/>
<rect x="394.5" y="111" width="21.5" height="3.9" fill="#000"/>
<rect x="488" y="111.3" width="5" height="28.2" fill="#000"/>
<rect x="474.4" y="134.4" width="18.6" height="5.1" fill="#000"/>
<rect x="475" y="110.8" width="18" height="3.9" fill="#000"/>
<path d="M85.6 87 L102 87 L101.5 75.5 L109.5 75.5" fill="none" stroke="#000" stroke-width="2.2" stroke-linejoin="miter"/>
<path d="M109.5 75.5 A10 10 0 0 0 119.5 85.5" fill="none" stroke="#000" stroke-width="2.2"/>
<path d="M217 87 L198.5 86.6 L198 74.5 L191.5 74.4" fill="none" stroke="#000" stroke-width="2.2" stroke-linejoin="miter"/>
<path d="M191.5 74.4 A11 11 0 0 1 180.5 85.4" fill="none" stroke="#000" stroke-width="2.2"/>
<path d="M301 87 L323.4 87.4 L322 76 L327.7 76" fill="none" stroke="#000" stroke-width="2.2" stroke-linejoin="miter"/>
<path d="M327.8 76 A10.5 10.5 0 0 0 338.3 86.5" fill="none" stroke="#000" stroke-width="2.2"/>
<path d="M397 87.6 L380 87.3 L380.4 76.7 L372.4 76.7" fill="none" stroke="#000" stroke-width="2.2" stroke-linejoin="miter"/>
<path d="M372.5 76.7 A9.5 9.5 0 0 1 363 86.2" fill="none" stroke="#000" stroke-width="2.2"/>
<path d="M116 112 L115.5 122 L122.4 122" fill="none" stroke="#000" stroke-width="2.2" stroke-linejoin="miter"/>
<path d="M122.5 122 A10 10 0 0 1 132.5 112" fill="none" stroke="#000" stroke-width="2.2"/>
<path d="M209.6 111 L209.2 120.8 L216.7 120.8" fill="none" stroke="#000" stroke-width="2.2" stroke-linejoin="miter"/>
<path d="M216.8 121 A9.7 9.7 0 0 1 226.5 111.3" fill="none" stroke="#000" stroke-width="2.2"/>
<path d="M309.2 111 L309.4 121.8 L302.5 121.8" fill="none" stroke="#000" stroke-width="2.2" stroke-linejoin="miter"/>
<path d="M302.5 121.8 A9.5 9.5 0 0 0 293 112.3" fill="none" stroke="#000" stroke-width="2.2"/>
<path d="M416 111 L416 122 L421.6 122" fill="none" stroke="#000" stroke-width="2.2" stroke-linejoin="miter"/>
<path d="M421.5 122 A10 10 0 0 1 431.5 112" fill="none" stroke="#000" stroke-width="2.2"/>
<path d="M475.1 111.2 L475.2 121.3 L468.3 121.3" fill="none" stroke="#000" stroke-width="2.2" stroke-linejoin="miter"/>
<path d="M468.3 121.3 A10 10 0 0 0 458.3 111.3" fill="none" stroke="#000" stroke-width="2.2"/>
<rect x="142.5" y="39" width="13.7" height="30.5" fill="#000"/>
<line x1="131" y1="70" x2="169" y2="70" stroke="#000" stroke-width="1.8" stroke-linecap="butt"/>
<line x1="120.3" y1="67.5" x2="120.3" y2="88" stroke="#000" stroke-width="3.0" stroke-linecap="butt"/>
<line x1="179.5" y1="67.8" x2="179.5" y2="87.5" stroke="#000" stroke-width="3.0" stroke-linecap="butt"/>
<line x1="119" y1="87" x2="180.8" y2="86.8" stroke="#000" stroke-width="2.6" stroke-linecap="butt"/>
<line x1="147.9" y1="69" x2="147.9" y2="80" stroke="#000" stroke-width="3.2" stroke-linecap="butt"/>
<rect x="140" y="79.6" width="17.6" height="7.9" fill="#000"/>
<path d="M121 80 A10.5 10.5 0 0 0 131.5 69.5" fill="none" stroke="#000" stroke-width="2.0"/>
<path d="M179 80 A10.5 10.5 0 0 1 168.5 69.5" fill="none" stroke="#000" stroke-width="2.0"/>
<rect x="344.8" y="44.5" width="12.3" height="21.7" fill="#000"/>
<line x1="339" y1="67" x2="348" y2="67" stroke="#000" stroke-width="2.6" stroke-linecap="butt"/>
<line x1="352" y1="67" x2="363.2" y2="67.3" stroke="#000" stroke-width="2.6" stroke-linecap="butt"/>
<line x1="339.7" y1="74" x2="339.7" y2="87.5" stroke="#000" stroke-width="2.6" stroke-linecap="butt"/>
<line x1="362.4" y1="74" x2="362.4" y2="87.8" stroke="#000" stroke-width="2.6" stroke-linecap="butt"/>
<line x1="348.5" y1="66" x2="349.2" y2="81.5" stroke="#000" stroke-width="1.3" stroke-linecap="butt"/>
<line x1="351.3" y1="66" x2="351.8" y2="81.5" stroke="#000" stroke-width="1.3" stroke-linecap="butt"/>
<rect x="342.7" y="81.5" width="13.8" height="6.1" fill="#000"/>
<line x1="338" y1="87.2" x2="363.5" y2="87.6" stroke="#000" stroke-width="2.6" stroke-linecap="butt"/>
<path d="M340 74 Q344.5 74 344.5 71.5 Q344.5 69.5 348 69.5" fill="none" stroke="#000" stroke-width="1.4"/>
<path d="M362.3 74 Q356.5 73.5 356 71 Q355.5 69.5 352 69.5" fill="none" stroke="#000" stroke-width="1.4"/>
<rect x="133.5" y="111.3" width="11.3" height="12.2" fill="#000"/>
<circle cx="139.8" cy="118.2" r="1.3" fill="#fff"/>
<path d="M140.5 123.5 Q141.5 127 138.5 127.5 Q136 127.5 135.5 125" fill="none" stroke="#000" stroke-width="1.3"/>
<line x1="132.8" y1="130.6" x2="141.5" y2="130.2" stroke="#000" stroke-width="1.6" stroke-linecap="butt"/>
<rect x="136.5" y="130" width="8.9" height="25" fill="#000"/>
<line x1="144.6" y1="111.5" x2="144.6" y2="131" stroke="#000" stroke-width="2.2" stroke-linecap="butt"/>
<path d="M432 111 L457.4 111.3 L456.5 122.5 L450 124 L447.5 131 L441 131 L439.5 124.5 L432.2 122.5 Z" fill="#000" stroke="#000" stroke-width="0.5" stroke-linejoin="miter"/>
<rect x="436" y="114.8" width="3.8" height="3.8" fill="#fff"/>
<rect x="449.3" y="114.8" width="3.9" height="3.8" fill="#fff"/>
<line x1="444.5" y1="113.5" x2="444.3" y2="130" stroke="#fff" stroke-width="1.2" stroke-linecap="butt"/>
<path d="M434 121.5 Q439.5 122.5 440.8 129" fill="none" stroke="#fff" stroke-width="1.0"/>
<path d="M455 121.5 Q449.5 122.5 448.2 129" fill="none" stroke="#fff" stroke-width="1.0"/>
<line x1="432" y1="131" x2="457.2" y2="130.8" stroke="#000" stroke-width="1.7" stroke-linecap="butt"/>
<rect x="438" y="131" width="12.6" height="24" fill="#000"/>
<rect x="228" y="108.2" width="63.6" height="14.3" fill="#000"/>
<line x1="232" y1="111" x2="288" y2="111.1" stroke="#fff" stroke-width="1.5" stroke-linecap="butt"/>
<line x1="232" y1="115.3" x2="288" y2="115.4" stroke="#fff" stroke-width="1.5" stroke-linecap="butt"/>
<line x1="232" y1="119.6" x2="288" y2="119.7" stroke="#fff" stroke-width="1.5" stroke-linecap="butt"/>
<rect x="228" y="108.2" width="4" height="17.3" fill="#000"/>
<rect x="286.5" y="108.2" width="5.1" height="14.8" fill="#000"/>
<path d="M227 125.5 Q236 126 237 135.5" fill="none" stroke="#000" stroke-width="2.0"/>
<line x1="226" y1="136.2" x2="230" y2="136.6" stroke="#000" stroke-width="1.6" stroke-linecap="butt"/>
<rect x="229" y="136.5" width="45.5" height="5.5" fill="#000"/>
<rect x="246.5" y="122" width="20.5" height="6" fill="#000"/>
<line x1="255.8" y1="128" x2="255.8" y2="137" stroke="#000" stroke-width="3.6" stroke-linecap="butt"/>
<rect x="262" y="138" width="9.5" height="27" fill="#000"/>
<path d="M274.7 138.3 A9.8 9.8 0 0 1 284.5 128.5" fill="none" stroke="#000" stroke-width="2.0"/>
<line x1="285.6" y1="123" x2="284.6" y2="137.5" stroke="#000" stroke-width="4" stroke-linecap="butt"/>
<path d="M0 40.5 L10 37.5 L11 36 L14 37 L38.3 32.5 L38.3 64.3 L21.4 66 L20.7 60.6 L0 62.2 Z" fill="#000" stroke="#000" stroke-width="0.5" stroke-linejoin="miter"/>
<path d="M24.5 39.2 L26.5 37.3 L34.2 36.3 L34.4 60.5 L32.6 62.8 L25.2 62.6 L23.2 60.5 L23 41.5 Z" fill="#d4d4d4" stroke="#000" stroke-width="0.6" stroke-linejoin="round"/>
<rect x="31.5" y="59" width="1.3" height="1.2" fill="#333"/>
<line x1="7.5" y1="45.3" x2="17.5" y2="43.9" stroke="#fff" stroke-width="1.6" stroke-linecap="butt"/>
<line x1="7.5" y1="49.6" x2="17.5" y2="48.2" stroke="#fff" stroke-width="0.9" stroke-linecap="butt"/>
<line x1="7.5" y1="53.3" x2="17.5" y2="51.9" stroke="#fff" stroke-width="1.0" stroke-linecap="butt"/>
<line x1="7.5" y1="57.3" x2="17.5" y2="55.9" stroke="#fff" stroke-width="0.9" stroke-linecap="butt"/>
<line x1="7.5" y1="60.1" x2="17.5" y2="58.7" stroke="#fff" stroke-width="0.9" stroke-linecap="butt"/>
<line x1="38.2" y1="32.5" x2="38.2" y2="90" stroke="#000" stroke-width="1.7" stroke-linecap="butt"/>
<line x1="3.6" y1="82.4" x2="4.2" y2="92.3" stroke="#000" stroke-width="2.6" stroke-linecap="butt"/>
<path d="M0.5 92.3 L9 93 Q15 91.5 16 83.2 L37.6 82.8" fill="none" stroke="#000" stroke-width="2.2"/>
<path d="M37.2 88 L36 92.5 Q36.8 98.6 45.6 99.4" fill="none" stroke="#000" stroke-width="2.4"/>
<path d="M45.6 99.5 Q37.3 101.5 36.2 112" fill="none" stroke="#000" stroke-width="2.4"/>
<rect x="-1" y="113.2" width="9.4" height="9.2" fill="#000"/>
<path d="M8.3 115.5 Q9 121 17.3 120.8 L17.2 113.5" fill="none" stroke="#000" stroke-width="2.2"/>
<path d="M17.3 114 Q18.5 121.8 27.6 122.8 L28 113.3" fill="none" stroke="#000" stroke-width="2.2"/>
<line x1="8.4" y1="116" x2="16.8" y2="120.4" stroke="#999" stroke-width="0.7" stroke-linecap="butt"/>
<line x1="18" y1="115" x2="27" y2="122" stroke="#999" stroke-width="0.7" stroke-linecap="butt"/>
<line x1="3.5" y1="139" x2="31.5" y2="138.8" stroke="#000" stroke-width="1.4" stroke-linecap="butt"/>
<line x1="3.5" y1="122.4" x2="3.5" y2="139" stroke="#000" stroke-width="1.3" stroke-linecap="butt"/>
<line x1="0" y1="114.3" x2="33" y2="112.5" stroke="#000" stroke-width="2.4" stroke-linecap="butt"/>
<text x="82.9" y="38.27" font-size="27" text-anchor="middle" fill="#000" >101</text>
<text x="203.1" y="39.17" font-size="27" text-anchor="middle" fill="#000" >103</text>
<text x="81.8" y="177.47" font-size="27" text-anchor="middle" fill="#000" >102</text>
<text x="197.2" y="175.17" font-size="27" text-anchor="middle" fill="#000" >104</text>
<text x="306.9" y="39.57" font-size="27" text-anchor="middle" fill="#000" >105</text>
<text x="394.7" y="40.07" font-size="27" text-anchor="middle" fill="#000" >107</text>
<text x="306.6" y="178.47" font-size="27" text-anchor="middle" fill="#000" >106</text>
<text x="394.7" y="181.47" font-size="27" text-anchor="middle" fill="#000" >108</text>
<text x="486.9" y="181.17" font-size="27" text-anchor="middle" fill="#000" >110</text>
<text x="474.1" y="67.47" font-size="27" text-anchor="middle" fill="#000" >109</text>
<text x="16.6" y="135.85" font-size="13" text-anchor="middle" fill="#000" >16</text>
<text x="456.2" y="17.76" font-size="10.5" text-anchor="middle" fill="#000" >109</text>
<text x="454.8" y="29.66" font-size="10.5" text-anchor="middle" fill="#000" >A</text>
<text x="493.4" y="16.56" font-size="10.5" text-anchor="middle" fill="#000" >109</text>
<text x="492.5" y="28.06" font-size="10.5" text-anchor="middle" fill="#000" >B</text>
<text x="530.1" y="23.69" font-size="14.5" text-anchor="middle" fill="#000" >109</text>
<text x="528.3" y="41.19" font-size="14.5" text-anchor="middle" fill="#000" >C</text>
<text x="522.8" y="67.52" font-size="21" text-anchor="middle" fill="#000" >111</text>
<text x="586.5" y="31.4" font-size="28" text-anchor="middle" fill="#000" letter-spacing="2.5">113</text>
<text x="632.8" y="16.5" font-size="12" text-anchor="middle" fill="#000" >17</text>
<line x1="442" y1="32" x2="463" y2="31.4" stroke="#000" stroke-width="1.5" stroke-linecap="butt"/>
<path d="M463 31.4 Q465 24.5 470 23.2 L472.7 23.2" fill="none" stroke="#000" stroke-width="2.0"/>
<line x1="474" y1="22.8" x2="474" y2="32.2" stroke="#000" stroke-width="2.8" stroke-linecap="butt"/>
<line x1="475.2" y1="4.8" x2="475.2" y2="23.4" stroke="#000" stroke-width="1.5" stroke-linecap="butt"/>
<path d="M475.3 23.4 Q483.5 22.8 485 30.6" fill="none" stroke="#000" stroke-width="2.0"/>
<line x1="485" y1="30.5" x2="506.5" y2="30.3" stroke="#000" stroke-width="1.5" stroke-linecap="butt"/>
<line x1="507" y1="4.8" x2="506.4" y2="31" stroke="#000" stroke-width="1.5" stroke-linecap="butt"/>
<path d="M506 31 Q514 31.5 514.7 38.5 L514.3 43.5" fill="none" stroke="#000" stroke-width="2.2"/>
<rect x="505.5" y="43.3" width="9.3" height="3.7" fill="#000"/>
<line x1="514" y1="45.2" x2="543.8" y2="45" stroke="#000" stroke-width="1.6" stroke-linecap="butt"/>
<path d="M543.5 45 Q545 38 552.5 37" fill="none" stroke="#000" stroke-width="2.2"/>
<line x1="554.5" y1="36.5" x2="554.5" y2="45.5" stroke="#000" stroke-width="3" stroke-linecap="butt"/>
<line x1="556.5" y1="0" x2="556.3" y2="50" stroke="#000" stroke-width="2.0" stroke-linecap="butt"/>
<path d="M489.3 88 L489.5 82.8 Q490.5 79 494.6 78.8 L497.2 79" fill="none" stroke="#000" stroke-width="2.2"/>
<line x1="499" y1="78.8" x2="499" y2="88.5" stroke="#000" stroke-width="3.6" stroke-linecap="butt"/>
<line x1="501" y1="47" x2="501" y2="88" stroke="#000" stroke-width="1.6" stroke-linecap="butt"/>
<line x1="506" y1="46.5" x2="506" y2="87" stroke="#000" stroke-width="1.8" stroke-linecap="butt"/>
<line x1="501" y1="47" x2="506" y2="47" stroke="#000" stroke-width="1.4" stroke-linecap="butt"/>
<line x1="506" y1="46.3" x2="539.5" y2="45.4" stroke="#000" stroke-width="1.8" stroke-linecap="butt"/>
<line x1="539.2" y1="45.5" x2="538.4" y2="87.5" stroke="#000" stroke-width="1.8" stroke-linecap="butt"/>
<line x1="516.5" y1="86.5" x2="538.5" y2="87.3" stroke="#000" stroke-width="2.0" stroke-linecap="butt"/>
<path d="M506.2 80.7 L512 81 Q516.5 82 516.6 86.5" fill="none" stroke="#000" stroke-width="2.2"/>
<line x1="500.5" y1="87.6" x2="506.5" y2="87.4" stroke="#000" stroke-width="1.6" stroke-linecap="butt"/>
<path d="M554.3 45 Q562.5 46 563.5 56.7" fill="none" stroke="#000" stroke-width="2.2"/>
<line x1="614.5" y1="-0.9" x2="614.3" y2="26" stroke="#000" stroke-width="2.2" stroke-linecap="butt"/>
<line x1="613" y1="25.7" x2="613.3" y2="48.5" stroke="#000" stroke-width="2.0" stroke-linecap="butt"/>
<line x1="582" y1="35.3" x2="612.5" y2="35" stroke="#000" stroke-width="1.8" stroke-linecap="butt"/>
<rect x="576" y="35" width="6.5" height="22.8" fill="#000"/>
<line x1="556.3" y1="58.6" x2="582.3" y2="57.8" stroke="#000" stroke-width="2.8" stroke-linecap="butt"/>
<line x1="556.3" y1="59" x2="555.6" y2="88.2" stroke="#000" stroke-width="2.2" stroke-linecap="butt"/>
<line x1="562.3" y1="60" x2="562.3" y2="87.6" stroke="#000" stroke-width="2.2" stroke-linecap="butt"/>
<line x1="556.2" y1="72.6" x2="562" y2="72.6" stroke="#000" stroke-width="1.6" stroke-linecap="butt"/>
<line x1="555.5" y1="88" x2="568.5" y2="87.6" stroke="#000" stroke-width="2.2" stroke-linecap="butt"/>
<path d="M581.3 58 L580.9 62.8 L566.8 63.6 L567 87.5" fill="none" stroke="#000" stroke-width="2.2" stroke-linejoin="miter"/>
<line x1="612" y1="35" x2="611.7" y2="47.5" stroke="#000" stroke-width="1.6" stroke-linecap="butt"/>
<path d="M582.3 48.3 L594 48.2 L595 46.6 L608 47 L609 48.8 L613.4 48.4" fill="none" stroke="#000" stroke-width="2.0"/>
<rect x="594" y="48" width="15.2" height="23.4" fill="#000"/>
<line x1="598.2" y1="53.3" x2="606.8" y2="52.9" stroke="#fff" stroke-width="1.5" stroke-linecap="butt"/>
<line x1="598.2" y1="57.6" x2="606.8" y2="57.2" stroke="#fff" stroke-width="1.5" stroke-linecap="butt"/>
<line x1="598.2" y1="62" x2="606.8" y2="61.6" stroke="#fff" stroke-width="1.5" stroke-linecap="butt"/>
<line x1="598.2" y1="66.4" x2="606.8" y2="66" stroke="#fff" stroke-width="1.5" stroke-linecap="butt"/>
<line x1="590.2" y1="50.5" x2="590.2" y2="86.5" stroke="#000" stroke-width="2.0" stroke-linecap="butt"/>
<line x1="594.4" y1="70" x2="594.6" y2="86.5" stroke="#000" stroke-width="2.0" stroke-linecap="butt"/>
<path d="M596.4 71.4 L596.6 86 L608 86.3 L607.6 71.2" fill="none" stroke="#000" stroke-width="1.6" stroke-linejoin="miter"/>
<rect x="607.8" y="75.6" width="9.5" height="11.9" fill="#000"/>
<path d="M567.5 78.3 A9.2 9.2 0 0 1 576.7 87.5" fill="none" stroke="#000" stroke-width="2.2"/>
<path d="M617 26 L617 18.7 Q625 18 626.4 26 L636 25.7" fill="none" stroke="#000" stroke-width="2.1"/>
<line x1="613" y1="26" x2="617.2" y2="26" stroke="#000" stroke-width="1.5" stroke-linecap="butt"/>
<line x1="635.7" y1="25.3" x2="634.2" y2="88" stroke="#000" stroke-width="2.6" stroke-linecap="butt"/>
<line x1="635" y1="25.6" x2="716" y2="25" stroke="#000" stroke-width="2.4" stroke-linecap="butt"/>
<line x1="636.4" y1="28.9" x2="714.5" y2="28.4" stroke="#000" stroke-width="1.3" stroke-linecap="butt"/>
<line x1="715.5" y1="24.5" x2="714.2" y2="86.5" stroke="#000" stroke-width="2.4" stroke-linecap="butt"/>
<line x1="672.9" y1="27" x2="673.4" y2="72" stroke="#000" stroke-width="2.2" stroke-linecap="butt"/>
<rect x="663.9" y="30.3" width="20.1" height="4.4" fill="#000"/>
<path d="M651.9 31.3 Q643 31 642.5 35 Q643 42 653.7 43.4 L695.2 42.4 Q705.5 40 705.5 34 Q705 30.5 697.4 30.6" fill="none" stroke="#000" stroke-width="2.4"/>
<path d="M655.4 83.5 L655.3 71.7 L690.6 72" fill="none" stroke="#000" stroke-width="1.8" stroke-linejoin="miter"/>
<line x1="634" y1="86.5" x2="656.2" y2="85.2" stroke="#000" stroke-width="2.4" stroke-linecap="butt"/>
<path d="M643.4 86 Q644 76.5 655.3 75.6" fill="none" stroke="#000" stroke-width="2.2"/>
<rect x="669" y="72" width="7.6" height="4.2" fill="#000"/>
<path d="M690.6 72 L691.2 73.2 Q699.5 73.5 699.6 80 L699.8 86.6" fill="none" stroke="#000" stroke-width="2.0"/>
<line x1="690.4" y1="88.3" x2="691.3" y2="83.2" stroke="#000" stroke-width="2.6" stroke-linecap="butt"/>
<text x="654.5" y="57.51" font-size="14" text-anchor="middle" fill="#000" >Boys</text>
<text x="692.5" y="58.51" font-size="14" text-anchor="middle" fill="#000" >Girls</text>
<line x1="532.2" y1="110.8" x2="532.2" y2="201.5" stroke="#000" stroke-width="2.8" stroke-linecap="butt"/>
<rect x="531.8" y="110.4" width="9.8" height="3.8" fill="#000"/>
<rect x="552.2" y="110.6" width="8.8" height="3.6" fill="#000"/>
<rect x="531.8" y="112" width="29" height="22" fill="#000"/>
<rect x="535.2" y="116.4" width="20" height="15.2" fill="#d2d2d2"/>
<line x1="535.5" y1="116.8" x2="555" y2="131.3" stroke="#000" stroke-width="3.0" stroke-linecap="butt"/>
<line x1="555" y1="116.8" x2="535.5" y2="131.3" stroke="#000" stroke-width="3.0" stroke-linecap="butt"/>
<rect x="556.4" y="111" width="4.4" height="55.3" fill="#000"/>
<path d="M560.8 119 Q563 123.5 567 121.6 Q569.5 120 569.7 112.2" fill="none" stroke="#000" stroke-width="2.2"/>
<line x1="569.5" y1="112.2" x2="586" y2="112.4" stroke="#000" stroke-width="1.8" stroke-linecap="butt"/>
<line x1="579" y1="112.5" x2="579" y2="147" stroke="#000" stroke-width="1.6" stroke-linecap="butt"/>
<line x1="585.5" y1="112.5" x2="585.5" y2="147.8" stroke="#000" stroke-width="1.8" stroke-linecap="butt"/>
<line x1="566.8" y1="146.8" x2="585.8" y2="147.4" stroke="#000" stroke-width="1.8" stroke-linecap="butt"/>
<path d="M588.7 112.3 L588.7 119 Q591 122.5 595.5 120.5 Q599.5 118 600 112.5 L603.5 113" fill="none" stroke="#000" stroke-width="2.2"/>
<line x1="603" y1="113" x2="602.6" y2="153.8" stroke="#000" stroke-width="1.8" stroke-linecap="butt"/>
<line x1="602" y1="153.5" x2="637.5" y2="153.6" stroke="#000" stroke-width="2.4" stroke-linecap="butt"/>
<line x1="634.5" y1="112.3" x2="635.5" y2="150.5" stroke="#000" stroke-width="3.0" stroke-linecap="butt"/>
<line x1="603" y1="113" x2="619" y2="111.4" stroke="#000" stroke-width="1.8" stroke-linecap="butt"/>
<path d="M619 111.2 Q624.5 112.5 626 119.5 Q628 125.5 634.5 126" fill="none" stroke="#000" stroke-width="2.2"/>
<path d="M615.5 88.3 A11.5 11.5 0 0 1 604 99.8" fill="none" stroke="#000" stroke-width="2.0"/>
<path d="M604 100 A11.6 11.6 0 0 1 615.6 111.6" fill="none" stroke="#000" stroke-width="2.0"/>
<rect x="616" y="107.5" width="4" height="4.8" fill="#000"/>
<line x1="601.5" y1="100" x2="606" y2="100" stroke="#000" stroke-width="2.0" stroke-linecap="butt"/>
<line x1="585" y1="87.3" x2="622.8" y2="87.7" stroke="#000" stroke-width="2.2" stroke-linecap="butt"/>
<path d="M623 87.3 Q623.5 78.5 632.5 77.3" fill="none" stroke="#000" stroke-width="2.2"/>
<line x1="545" y1="135" x2="545.5" y2="157.5" stroke="#000" stroke-width="2.8" stroke-linecap="butt"/>
<rect x="532.5" y="150" width="3.8" height="8" fill="#000"/>
<path d="M536 165.8 A8.6 8.6 0 0 0 544.6 157.2" fill="none" stroke="#000" stroke-width="2.2"/>
<line x1="545" y1="156.7" x2="558.5" y2="156.5" stroke="#000" stroke-width="2.2" stroke-linecap="butt"/>
<path d="M548 137.5 L559.3 137 Q564.5 139 563.8 142.6 Q563 145.3 559.5 145.7" fill="none" stroke="#000" stroke-width="2.1"/>
<rect x="559.3" y="145.5" width="4.2" height="7" fill="#000"/>
<rect x="561.5" y="150.5" width="3.8" height="2.7" fill="#000"/>
<rect x="561.2" y="158.8" width="6.3" height="3" fill="#000"/>
<line x1="558.7" y1="166" x2="558.7" y2="169.5" stroke="#000" stroke-width="2.6" stroke-linecap="butt"/>
<path d="M578.9 148 Q579.5 157 588 159.8" fill="none" stroke="#000" stroke-width="2.0"/>
<line x1="563" y1="164.2" x2="587.8" y2="163.7" stroke="#000" stroke-width="1.8" stroke-linecap="butt"/>
<line x1="587.8" y1="159.5" x2="587.5" y2="164" stroke="#000" stroke-width="1.8" stroke-linecap="butt"/>
<rect x="532.5" y="169.3" width="6.7" height="26" fill="none" stroke="#000" stroke-width="1.5" rx="0"/>
<line x1="610.8" y1="153.5" x2="610.6" y2="201.8" stroke="#000" stroke-width="2.2" stroke-linecap="butt"/>
<line x1="611" y1="187.3" x2="662" y2="186.7" stroke="#000" stroke-width="1.8" stroke-linecap="butt"/>
<line x1="634.5" y1="166.5" x2="634.5" y2="186.8" stroke="#000" stroke-width="1.6" stroke-linecap="butt"/>
<line x1="640.2" y1="166.5" x2="640.8" y2="186.8" stroke="#000" stroke-width="1.6" stroke-linecap="butt"/>
<line x1="634.5" y1="166.5" x2="640.2" y2="166.5" stroke="#000" stroke-width="1.6" stroke-linecap="butt"/>
<text x="568.8" y="134.32" font-size="11.5" text-anchor="middle" fill="#000" >112</text>
<text x="573.3" y="192.9" font-size="28" text-anchor="middle" fill="#000" letter-spacing="2.5">114</text>
<text x="619.3" y="141.32" font-size="21" text-anchor="middle" fill="#000" >116</text>
<text x="621.8" y="165.66" font-size="10.5" text-anchor="middle" fill="#000" >120</text>
<text x="621.3" y="180.66" font-size="10.5" text-anchor="middle" fill="#000" >B</text>
<path d="M650.9 116.6 L684.8 119.2" fill="none" stroke="#000" stroke-width="2.0" stroke-linejoin="miter"/>
<path d="M651 116.5 L650 128 Q642 129.5 643 133.5 L650.6 136.8" fill="none" stroke="#000" stroke-width="2.2"/>
<line x1="650.6" y1="136.5" x2="650.3" y2="152.5" stroke="#000" stroke-width="1.8" stroke-linecap="butt"/>
<path d="M660.1 118.5 L667.7 119.2 L666.9 126.6 L659.9 126.3 Z" fill="#000" stroke="#000" stroke-width="0.5" stroke-linejoin="miter"/>
<path d="M672.6 118 L681 119 L680.5 125.2 L672.9 124.9 Z" fill="#000" stroke="#000" stroke-width="0.5" stroke-linejoin="miter"/>
<rect x="663.5" y="122.5" width="1.8" height="1.8" fill="#fff"/>
<rect x="676.3" y="121.5" width="1.7" height="1.8" fill="#fff"/>
<line x1="661.5" y1="119" x2="661.6" y2="151.5" stroke="#000" stroke-width="1.7" stroke-linecap="butt"/>
<rect x="651" y="137" width="10.6" height="15" fill="#000"/>
<rect x="654.8" y="139.2" width="2.2" height="2.2" fill="#fff"/>
<rect x="654.8" y="143.5" width="2.2" height="2.2" fill="#fff"/>
<rect x="654.8" y="147.7" width="2.2" height="2" fill="#fff"/>
<line x1="680.5" y1="119" x2="680.5" y2="138.3" stroke="#000" stroke-width="1.8" stroke-linecap="butt"/>
<path d="M680.5 138 Q670.5 138.5 670 145 L680 147.2" fill="none" stroke="#000" stroke-width="2.2"/>
<line x1="680" y1="147" x2="680.3" y2="172.3" stroke="#000" stroke-width="1.8" stroke-linecap="butt"/>
<line x1="650.3" y1="152.4" x2="679.8" y2="152.2" stroke="#000" stroke-width="2.0" stroke-linecap="butt"/>
<path d="M641.5 161.5 Q642.5 154.5 650.5 153.3" fill="none" stroke="#000" stroke-width="2.2"/>
<line x1="641.4" y1="160.5" x2="641.3" y2="186.8" stroke="#000" stroke-width="1.8" stroke-linecap="butt"/>
<line x1="640" y1="186.6" x2="704.6" y2="185.9" stroke="#000" stroke-width="1.8" stroke-linecap="butt"/>
<path d="M682.9 119.3 L683.4 127.6 L692.8 126.7 L693.1 119.7" fill="none" stroke="#000" stroke-width="2.2"/>
<path d="M684 122 Q686 126.5 690 125 Q692.5 123.5 693 120" fill="none" stroke="#000" stroke-width="1.5"/>
<path d="M693.1 119.7 L720.8 122" fill="none" stroke="#000" stroke-width="2.0" stroke-linejoin="miter"/>
<line x1="720.6" y1="121.5" x2="719.8" y2="156" stroke="#000" stroke-width="1.8" stroke-linecap="butt"/>
<line x1="704.3" y1="155.9" x2="720" y2="155.6" stroke="#000" stroke-width="1.8" stroke-linecap="butt"/>
<line x1="704.5" y1="155.5" x2="703.9" y2="173.6" stroke="#000" stroke-width="1.8" stroke-linecap="butt"/>
<line x1="680" y1="168.2" x2="704" y2="167.8" stroke="#000" stroke-width="1.7" stroke-linecap="butt"/>
<line x1="680" y1="171.8" x2="704" y2="171.6" stroke="#000" stroke-width="1.7" stroke-linecap="butt"/>
<path d="M704 173.4 L714.1 174.2 Q714.5 180.5 704.5 182.2" fill="none" stroke="#000" stroke-width="2.2"/>
<path d="M720.6 131.5 Q729.5 131.5 730 125 L731.3 122.1" fill="none" stroke="#000" stroke-width="2.1"/>
<path d="M731.3 122.1 L758.4 124.6" fill="none" stroke="#000" stroke-width="2.0" stroke-linejoin="miter"/>
<path d="M758.2 124 L755.1 209.3" fill="none" stroke="#000" stroke-width="2.2" stroke-linejoin="miter"/>
<path d="M755.6 151.7 L740.6 151.6 L740.8 157.2 L748.4 157.2 L747.7 179.4 L726.3 180 L726.1 187.4 L756 187.4" fill="none" stroke="#000" stroke-width="2.0" stroke-linejoin="miter"/>
<path d="M755.6 208.6 L731.6 216.7" fill="none" stroke="#000" stroke-width="2.6" stroke-linejoin="miter"/>
<path d="M718.6 212.4 Q727.5 209.5 730.3 216.9" fill="none" stroke="#000" stroke-width="2.2"/>
<text x="661.5" y="169.24" font-size="18" text-anchor="middle" fill="#000" >120</text>
<text x="665.8" y="185.04" font-size="18" text-anchor="middle" fill="#000" >A</text>
<text x="703.5" y="147.92" font-size="21" text-anchor="middle" fill="#000" >118</text>
<text x="738.6" y="145.07" font-size="15" text-anchor="middle" fill="#000" >Elem</text>
<text x="725.8" y="170.67" font-size="15" text-anchor="middle" fill="#000" >Office</text>
<text x="734.8" y="207.74" font-size="18" text-anchor="middle" fill="#000" >120</text>
</g>
</svg>
</body></html>
